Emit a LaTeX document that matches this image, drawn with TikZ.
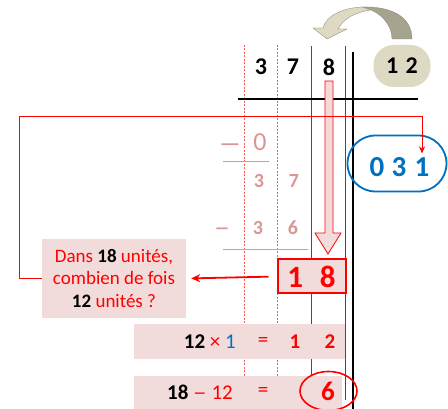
\documentclass[tikz,border=0pt]{standalone}
\usepackage{fontspec}
\setmainfont{Carlito}
\usepackage{tikz}
\usetikzlibrary{arrows.meta,positioning,calc}
\definecolor{divRed}  {RGB}{255,  0,  0}
\definecolor{divPink} {RGB}{242,220,219}
\definecolor{divFade} {RGB}{217,150,148}
\definecolor{divBlue} {RGB}{  0,112,192}
\definecolor{divBeige}{RGB}{221,217,195}
\definecolor{divOlive}{RGB}{166,164,142}
\definecolor{divDot}  {RGB}{255, 90, 90}
\newcommand{\longdash}[1]{\scalebox{#1}[1]{–}}

\begin{document}
\begin{tikzpicture}[x=1pt,y=-1pt,
    dig/.style={font=\fontsize{24}{24}\selectfont\bfseries,inner sep=0pt},
    fadedig/.style={font=\fontsize{20}{20}\selectfont\bfseries,divFade,inner sep=0pt},
    fadesign/.style={font=\fontsize{20}{20}\selectfont\bfseries,divFade,inner sep=0pt},
    qdig/.style={font=\fontsize{29}{29}\selectfont\bfseries,divBlue,inner sep=0pt},
    rowtxt/.style={font=\fontsize{21}{21}\selectfont,inner sep=0pt},
    pinkbox/.style={fill=divPink,draw=none,inner sep=0pt},
    redline/.style={draw=divRed,line width=1pt}]
  \useasboundingbox (0,0) rectangle (448,409);
  % Colonnes
  \foreach \x in {244,277}
    \draw[divDot,dash pattern=on 2pt off 1.5pt,line width=0.9pt](\x,45)--(\x,409);
  \foreach \x/\fin in {311/380,345/400}
    \draw[redline](\x,46)--(\x,\fin);
  % Potence
  \draw[line width=2.8pt](353,52)--(353,409);
  \draw[line width=2.8pt](238,99)--(418,99);
  % Dividende et diviseur
  \node[dig] (d3) at (261,67) {3};
  \node[dig] (d7) at (293,67) {7};
  \node[dig] (d8) at (329,67) {8};
  \node[dig,fill=divBeige,rounded corners=20pt,minimum width=57pt,
        minimum height=42pt] (dvs) at (402,66) {1\hspace{0.3em}2};
  % Fleche courbe
  \filldraw[draw=divOlive!80!black,line width=0.3pt,fill=divOlive]
    (412,39) .. controls (412,16) and (390,6) .. (362,7)
    .. controls (380,11) and (392,24) .. (392,39) -- cycle;
  \filldraw[draw=divOlive!80!black,line width=0.3pt,fill=divBeige]
    (362,7) .. controls (342,8) and (326,16) .. (323,28)
    -- (313,28) -- (327,39) -- (347,29) -- (338,29)
    .. controls (344,18) and (356,12) .. (371,10) -- cycle;
  % Chiffre abaisse
  \filldraw[fill=divPink,draw=divRed,line width=0.8pt]
    (325,81) -- (333,81) -- (333,233) -- (341,233) -- (328,254)
    -- (315,233) -- (325,233) -- cycle;
  % Soustractions deja faites
  \node[font=\fontsize{28}{28}\selectfont,divFade,inner sep=0pt] (m1) at (230,148) {\longdash{1.7}};
  \node[font=\fontsize{26}{26}\selectfont,divFade,inner sep=0pt] (r0) at (260,142) {0};
  \draw[divFade,line width=0.8pt](223,161)--(269,161);
  \node[fadedig] (r3) at (259,181) {3};
  \node[fadedig] (r7) at (294,181) {7};
  \node[fadesign] (m2) at (222,231) {\longdash{1.6}};
  \node[fadedig] (s3) at (258,228) {3};
  \node[fadedig] (s6) at (293,228) {6};
  \draw[divFade,line width=0.8pt](223,249)--(308,249);
  % Reste 18
  \node[draw=divRed,line width=2pt,fill=divPink,minimum width=68pt,
        minimum height=34pt,inner sep=0pt,text=divRed,
        font=\fontsize{31}{31}\selectfont\bfseries] (b18) at (311.5,276.5)
    {1\hspace{17pt}8};
  % Question
  \node[pinkbox,minimum width=144pt,minimum height=79pt,align=center,
        text=divRed,font=\fontsize{19}{22.5}\selectfont] (quest) at (114,278.5)
    {Dans \textbf{\color{black}18} unités,\\combien de fois\\
     \textbf{\color{black}12} unités ?};
  \draw[divRed,line width=1.8pt,-{Stealth[length=9pt,width=8pt]},
        shorten <=8pt,shorten >=5pt] (b18.west) -- (quest.east);
  % Quotient
  \node[draw=divBlue,line width=1.8pt,rounded corners=28pt,minimum width=99pt,
        minimum height=56pt] (quot) at (397,163.5) {};
  \node[qdig] (q0) at (377,167) {0};
  \node[qdig] (q3) at (399,167) {3};
  \node[qdig] (q1) at (422,167) {1};
  \coordinate (turn) at (19,117);
  \draw[redline,-{Stealth[length=7pt,width=6pt]},shorten >=4pt]
    (quest.west) -| (turn) -| (q1.north);
  % Lignes de calcul
  \node[pinkbox,minimum width=211pt,minimum height=35pt] (row1) at (239.5,341.5) {};
  \node[rowtxt,anchor=east] (prod) at (236,342)
    {\textbf{12} \textcolor{divRed}{×} \textcolor{divBlue}{1}};
  \node[rowtxt,divRed] (eq1) at (263,342) {=};
  \node[rowtxt,divRed,font=\fontsize{21}{21}\selectfont\bfseries] (p1) at (295,342) {1};
  \node[rowtxt,divRed,font=\fontsize{21}{21}\selectfont\bfseries] (p2) at (330,342) {2};
  \node[pinkbox,minimum width=208pt,minimum height=36pt] (row2) at (238,394) {};
  \node[rowtxt,anchor=east] (diff) at (233,392)
    {\textbf{18} \textcolor{divRed}{\longdash{1.3} 12}};
  \node[rowtxt,divRed] (eq2) at (263,392) {=};
  \node[divRed,inner sep=0pt,font=\fontsize{27}{27}\selectfont\bfseries] (six) at (328,391) {6};
  \draw[divRed,line width=1.6pt] (328.5,391) ellipse [x radius=28.5pt,y radius=19.5pt];
\end{tikzpicture}
\end{document}
